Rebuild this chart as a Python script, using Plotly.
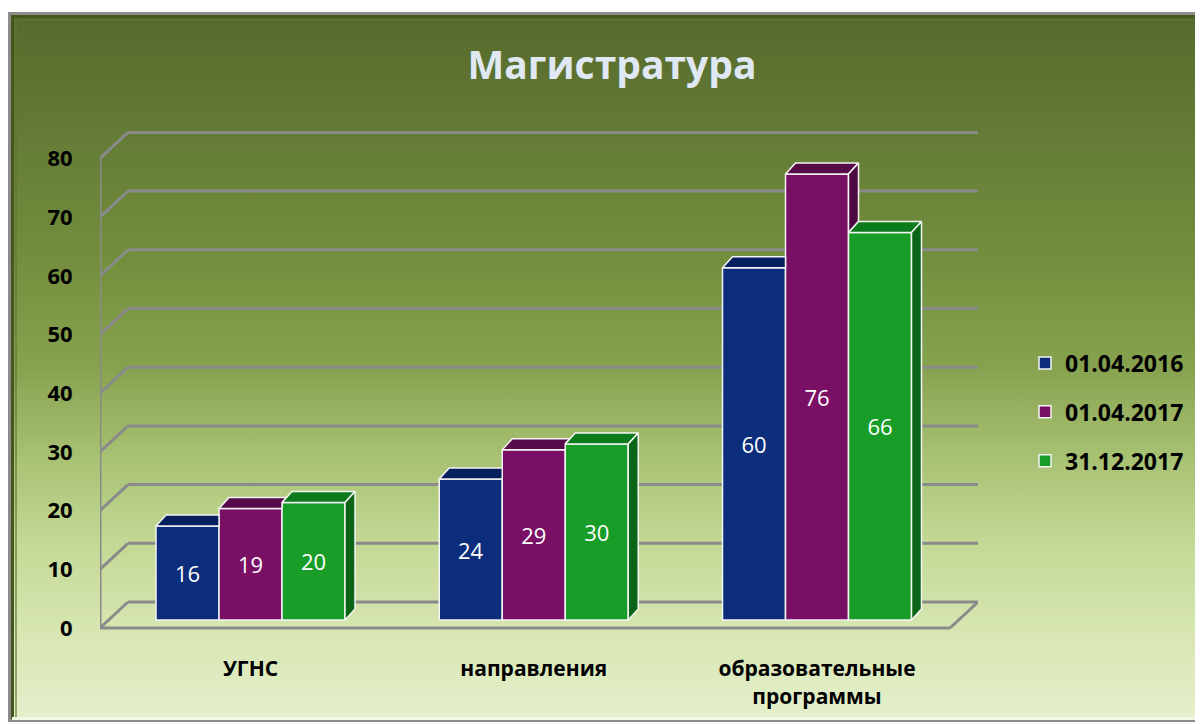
import base64
import plotly.graph_objects as go

# ---------------- data ----------------
categories = ["УГНС", "направления", "образовательные<br>программы"]
series_names = ["01.04.2016", "01.04.2017", "31.12.2017"]
values_2016 = [16, 24, 60]
values_2017 = [19, 29, 76]
values_2017_end = [20, 30, 66]
y_ticks = [0, 10, 20, 30, 40, 50, 60, 70, 80]

series_values = [values_2016, values_2017, values_2017_end]
front_colors = ["#0b2d7b", "#7a1066", "#179d28"]
top_colors = ["#061f5e", "#570a4a", "#0c7b1c"]
side_colors = ["#041a52", "#4d0842", "#0a6616"]

# ---------------- geometry (pixels -> data units) ----------------
W, H = 1203, 724
OX, OY = 8, 8                          # page body margin offset
L, R, T, B = 100 - OX, 978 - OX, 100 - OY, 640 - OY   # plot area in figure pixels
BASE = 620 - OY                        # pixel row of value 0 on bar plane
K = 5.87                               # pixels per value unit
CAT_PX = 283.25                        # pixels per category step
CAT0_PX = 250.5 - OX                   # pixel x of first category centre

x_range = [(L - CAT0_PX) / CAT_PX, (R - CAT0_PX) / CAT_PX]
y_range = [-(B - BASE) / K, (BASE - T) / K]

bar_w = 63 / CAT_PX
dx = 10 / CAT_PX
dy = 11 / K
front_dy = -8 / K        # front edge of floor/left wall
back_dy = 18 / K         # back wall
front_x = (100 - OX - CAT0_PX) / CAT_PX
back_x = (128 - OX - CAT0_PX) / CAT_PX
floor_right_front = (950 - OX - CAT0_PX) / CAT_PX
back_right = (978 - OX - CAT0_PX) / CAT_PX

n_series = len(series_values)
x_cats = list(range(len(categories)))

fig = go.Figure()

# front faces as real bars
for i, (name, vals) in enumerate(zip(series_names, series_values)):
    fig.add_trace(go.Bar(
        x=x_cats, y=vals, name=name,
        width=bar_w, offset=-n_series / 2 * bar_w + i * bar_w,
        marker=dict(color=front_colors[i], line=dict(color="#f4f4f4", width=1.5)),
        text=vals, texttemplate="%{y}", textposition="inside",
        insidetextanchor="middle", textangle=0, constraintext="none",
        textfont=dict(family="Open Sans", size=22, color="white"),
        legendgroup=name, hoverinfo="skip",
    ))

# 3D top and side faces derived from the values
for i, vals in enumerate(series_values):
    tx, ty, sx, sy = [], [], [], []
    for c, v in enumerate(vals):
        x0 = c - n_series / 2 * bar_w + i * bar_w
        e = x0 + bar_w
        v_next = series_values[i + 1][c] if i + 1 < n_series else 0
        # top face
        if v_next > v:
            cc = min(v_next, v + dy)
            pts = [(x0, v), (e, v), (e, cc), (e + (v + dy - cc) * dx / dy, v + dy), (x0 + dx, v + dy), (x0, v)]
        else:
            pts = [(x0, v), (e, v), (e + dx, v + dy), (x0 + dx, v + dy), (x0, v)]
        tx += [p[0] for p in pts] + [None]
        ty += [p[1] for p in pts] + [None]
        # side face
        if v_next < v:
            pts = [(e, v_next), (e + dx, v_next + dy), (e + dx, v + dy), (e, v), (e, v_next)]
            sx += [p[0] for p in pts] + [None]
            sy += [p[1] for p in pts] + [None]
    fig.add_trace(go.Scatter(x=tx, y=ty, mode="lines", fill="toself", fillcolor=top_colors[i],
                             line=dict(color="#f4f4f4", width=1.5), showlegend=False, hoverinfo="skip"))
    if sx:
        fig.add_trace(go.Scatter(x=sx, y=sy, mode="lines", fill="toself", fillcolor=side_colors[i],
                                 line=dict(color="#f4f4f4", width=1.5), showlegend=False, hoverinfo="skip"))

# walls / gridlines
grid_col = "#8a8a8a"
shapes = []
for v in y_ticks:
    shapes.append(dict(type="line", xref="x", yref="y", layer="below",
                       x0=back_x, x1=back_right, y0=v + back_dy, y1=v + back_dy,
                       line=dict(color=grid_col, width=3)))
    shapes.append(dict(type="line", xref="x", yref="y", layer="below",
                       x0=front_x, x1=back_x, y0=v + front_dy, y1=v + back_dy,
                       line=dict(color=grid_col, width=3)))
shapes.append(dict(type="line", xref="x", yref="y", layer="below",
                   x0=front_x, x1=front_x, y0=y_ticks[0] + front_dy, y1=y_ticks[-1] + front_dy,
                   line=dict(color=grid_col, width=3)))
shapes.append(dict(type="line", xref="x", yref="y", layer="below",
                   x0=front_x, x1=floor_right_front, y0=front_dy, y1=front_dy,
                   line=dict(color=grid_col, width=3)))
shapes.append(dict(type="line", xref="x", yref="y", layer="below",
                   x0=floor_right_front, x1=back_right, y0=front_dy, y1=back_dy,
                   line=dict(color=grid_col, width=3)))

# background gradient + frame as an SVG image (figure pixel coords)
fx0, fy0 = 8 - OX, 12 - OY
fx1, fy1 = 1202 - OX, 722 - OY
svg = f"""<svg xmlns='http://www.w3.org/2000/svg' width='{W}' height='{H}' viewBox='0 0 {W} {H}'>
<defs><linearGradient id='g' gradientUnits='userSpaceOnUse' x1='0' y1='{fy0}' x2='0' y2='{fy1}'>
<stop offset='0' stop-color='#56692b'/>
<stop offset='0.15' stop-color='#627935'/>
<stop offset='0.35' stop-color='#738f3d'/>
<stop offset='0.5' stop-color='#87a24f'/>
<stop offset='0.62' stop-color='#a6c071'/>
<stop offset='0.75' stop-color='#c4d996'/>
<stop offset='0.88' stop-color='#d8e7b3'/>
<stop offset='1' stop-color='#e5f0cd'/>
</linearGradient></defs>
<rect x='0' y='0' width='{W}' height='{H}' fill='white'/>
<rect x='{fx0}' y='{fy0}' width='{fx1 - fx0}' height='{fy1 - fy0}' fill='url(#g)'/>
<rect x='{fx0 + 1.5}' y='{fy0 + 1.5}' width='{fx1 - fx0 - 3}' height='{fy1 - fy0 - 3}' fill='none' stroke='#8c8c8c' stroke-width='3'/>
<path d='M{fx0 + 4.5} {fy1 - 3} V{fy0 + 4.5} H{fx1 - 4}' fill='none' stroke='#45561f' stroke-width='3'/>
<path d='M{fx0 + 8} {fy1 - 3} V{fy0 + 8} H{fx1 - 4}' fill='none' stroke='#5e7530' stroke-width='2' opacity='0.6'/>
<path d='M{fx0 + 4} {fy1 - 3.5} H{fx1 - 3.5} V{fy0 + 4}' fill='none' stroke='#f2f8e6' stroke-width='3'/>
</svg>"""
uri = "data:image/svg+xml;base64," + base64.b64encode(svg.encode("utf-8")).decode()

pw, ph = R - L, B - T
fig.update_layout(
    width=W, height=H,
    margin=dict(l=L, r=W - R, t=T, b=H - B, pad=0),
    paper_bgcolor="white", plot_bgcolor="rgba(0,0,0,0)",
    barmode="overlay",
    shapes=shapes,
    images=[dict(source=uri, xref="paper", yref="paper",
                 x=-L / pw, y=1 + T / ph, sizex=W / pw, sizey=H / ph,
                 xanchor="left", yanchor="top", sizing="stretch", layer="below")],
    title=dict(text="Магистратура", x=(612 - OX) / W, y=1 - (65 - OY) / H,
               xref="container", yref="container", xanchor="center", yanchor="middle",
               font=dict(family="Open Sans", size=39, color="#dfe8f3", weight="bold")),
    xaxis=dict(range=x_range, tickvals=x_cats, ticktext=categories, showgrid=False,
               zeroline=False, showline=False, ticks="outside", ticklen=10,
               tickcolor="rgba(0,0,0,0)", fixedrange=True,
               tickfont=dict(family="Open Sans", size=21, color="black", weight="bold")),
    yaxis=dict(range=y_range, tickvals=[v + front_dy for v in y_ticks],
               ticktext=[str(v) for v in y_ticks], showgrid=False, zeroline=False,
               showline=False, ticks="outside", ticklen=22, tickcolor="rgba(0,0,0,0)",
               fixedrange=True,
               tickfont=dict(family="Open Sans", size=22, color="black", weight="bold")),
    legend=dict(x=(1025 - OX - L) / pw, y=(B - (412 - OY)) / ph, xanchor="left", yanchor="middle",
                bgcolor="rgba(0,0,0,0)", tracegroupgap=16,
                font=dict(family="Open Sans", size=23, color="black", weight="bold")),
    showlegend=True,
)

fig.write_html("out.html")
